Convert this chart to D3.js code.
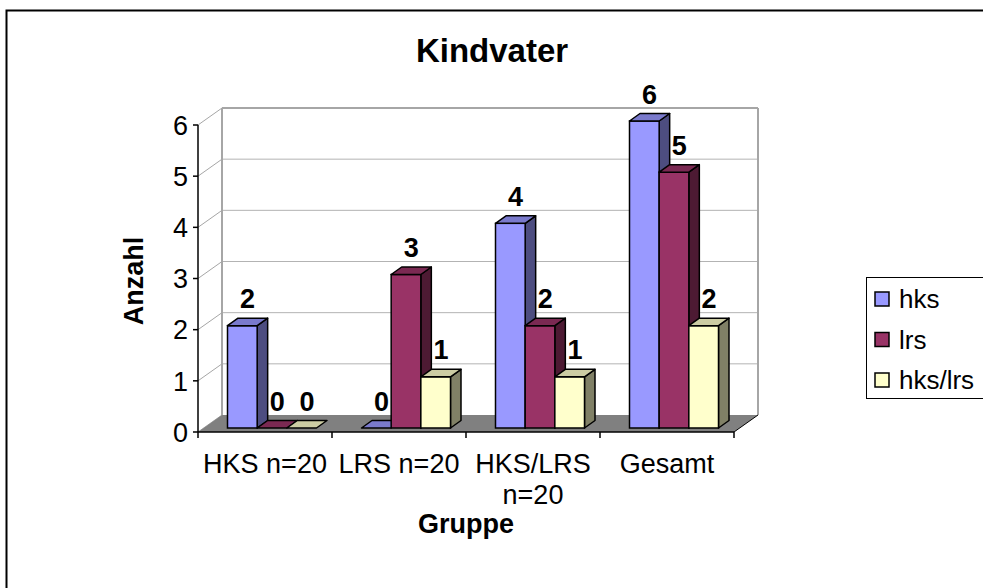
<!DOCTYPE html>
<html>
<head>
<meta charset="utf-8">
<script src="https://cdn.jsdelivr.net/npm/d3@7"></script>
<style>
  html, body { margin: 0; padding: 0; background: #fff; }
  svg { display: block; font-family: "Liberation Sans", Arial, sans-serif; }
</style>
</head>
<body>
<svg id="chart" width="983" height="588"></svg>
<script>
// Kindvater: counts per group, three series
const categories = ["HKS n=20", "LRS n=20", "HKS/LRS n=20", "Gesamt"];
const categoryLines = [["HKS n=20"], ["LRS n=20"], ["HKS/LRS", "n=20"], ["Gesamt"]];
const seriesNames = ["hks", "lrs", "hks/lrs"];
const hksValues = [2, 0, 4, 6];
const lrsValues = [0, 3, 2, 5];
const hksLrsValues = [0, 1, 1, 2];
const yTicks = [0, 1, 2, 3, 4, 5, 6];

const seriesValues = [hksValues, lrsValues, hksLrsValues];
const palette = [
  { front: "#9999FF", top: "#7A7ACC", side: "#4D4D80" },
  { front: "#993366", top: "#7A2952", side: "#4D1A33" },
  { front: "#FFFFCC", top: "#CCCCA3", side: "#808066" }
];

const svg = d3.select("#chart");

// outer chart frame
svg.append("rect")
  .attr("x", 6.5).attr("y", 10.5).attr("width", 1000).attr("height", 600)
  .attr("fill", "#fff").attr("stroke", "#000").attr("stroke-width", 2);

// 3D plot geometry
const left = 198, right = 734, front0 = 432;
const depthX = 24, depthY = -17;           // wall depth offset
const barShiftX = 5.6, barShiftY = -4;     // bars sit slightly behind the front plane
const barDX = 10.5, barDY = -7.5;          // bar depth

const y = d3.scaleLinear().domain([0, 6]).range([front0, front0 - 307]);
const x = d3.scaleBand().domain(categories).range([left, right]);
const xs = d3.scaleBand().domain(seriesNames).range([23.9, 23.9 + 89]);

// side wall (left) and back wall
const topFront = y(6);
const g = svg.append("g");
g.append("polygon")
  .attr("points", [[left, topFront], [left + depthX, topFront + depthY],
                   [left + depthX, front0 + depthY], [left, front0]].join(" "))
  .attr("fill", "#fff");
g.append("rect")
  .attr("x", left + depthX).attr("y", topFront + depthY)
  .attr("width", right - left).attr("height", front0 - topFront)
  .attr("fill", "#fff");

// gridlines: diagonal on side wall, horizontal on back wall
yTicks.forEach(t => {
  const yf = y(t);
  g.append("line")
    .attr("x1", left).attr("y1", yf).attr("x2", left + depthX).attr("y2", yf + depthY)
    .attr("stroke", "#a6a6a6").attr("stroke-width", 1);
  if (t > 0) {
    g.append("line")
      .attr("x1", left + depthX).attr("y1", yf + depthY)
      .attr("x2", right + depthX).attr("y2", yf + depthY)
      .attr("stroke", "#b3b3b3").attr("stroke-width", 1);
  }
});
// back wall edges
[[left + depthX, topFront + depthY, left + depthX, front0 + depthY],
 [right + depthX, topFront + depthY, right + depthX, front0 + depthY],
 [left + depthX, topFront + depthY, right + depthX, topFront + depthY]].forEach(p => {
  g.append("line").attr("x1", p[0]).attr("y1", p[1]).attr("x2", p[2]).attr("y2", p[3])
    .attr("stroke", "#a6a6a6").attr("stroke-width", 2);
});

// floor
g.append("polygon")
  .attr("points", [[left, front0], [right, front0], [right + depthX, front0 + depthY],
                   [left + depthX, front0 + depthY]].join(" "))
  .attr("fill", "#808080");

// front axes
g.append("line").attr("x1", left).attr("y1", topFront).attr("x2", left).attr("y2", front0)
  .attr("stroke", "#000").attr("stroke-width", 1.5);
g.append("line").attr("x1", left).attr("y1", front0).attr("x2", right).attr("y2", front0)
  .attr("stroke", "#000").attr("stroke-width", 1.5);
g.append("line").attr("x1", right).attr("y1", front0).attr("x2", right + depthX).attr("y2", front0 + depthY)
  .attr("stroke", "#000").attr("stroke-width", 1);

// y axis ticks and labels
yTicks.forEach(t => {
  g.append("line").attr("x1", left - 5).attr("y1", y(t)).attr("x2", left).attr("y2", y(t))
    .attr("stroke", "#000").attr("stroke-width", 1.5);
  g.append("text").attr("x", left - 10).attr("y", y(t)).attr("dy", "0.36em")
    .attr("text-anchor", "end").attr("font-size", 27).text(t);
});

// x axis ticks and category labels
const tickXs = categories.map(c => x(c)).concat([right]);
tickXs.forEach(tx => {
  g.append("line").attr("x1", tx).attr("y1", front0).attr("x2", tx).attr("y2", front0 + 6)
    .attr("stroke", "#000").attr("stroke-width", 1.5);
});
categories.forEach((c, i) => {
  const cx = x(c) + x.bandwidth() / 2;
  const t = g.append("text").attr("x", cx).attr("y", 473)
    .attr("text-anchor", "middle").attr("font-size", 27);
  categoryLines[i].forEach((line, j) => {
    t.append("tspan").attr("x", cx).attr("dy", j === 0 ? 0 : 31).text(line);
  });
});

// bars, drawn left to right so each front face covers its neighbour's side
const bars = svg.append("g");
categories.forEach((c, ci) => {
  seriesNames.forEach((s, si) => {
    const v = seriesValues[si][ci];
    const col = palette[si];
    const bx = x(c) + barShiftX + xs(s);
    const bw = xs.bandwidth();
    const base = y(0) + barShiftY;
    const top = y(v) + barShiftY;
    if (v > 0) {
      bars.append("polygon")
        .attr("points", [[bx + bw, top], [bx + bw + barDX, top + barDY],
                         [bx + bw + barDX, base + barDY], [bx + bw, base]].join(" "))
        .attr("fill", col.side).attr("stroke", "#000").attr("stroke-width", 1.5)
        .attr("stroke-linejoin", "round");
      bars.append("rect")
        .attr("x", bx).attr("y", top).attr("width", bw).attr("height", base - top)
        .attr("fill", col.front).attr("stroke", "#000").attr("stroke-width", 1.5);
    }
    bars.append("polygon")
      .attr("points", [[bx, top], [bx + barDX, top + barDY],
                       [bx + bw + barDX, top + barDY], [bx + bw, top]].join(" "))
      .attr("fill", col.top).attr("stroke", "#000").attr("stroke-width", 1.5)
      .attr("stroke-linejoin", "round");
    bars.append("text")
      .attr("x", bx + bw / 2 + barDX / 2).attr("y", top + barDY - 10)
      .attr("text-anchor", "middle").attr("font-size", 27).attr("font-weight", "bold")
      .text(v);
  });
});

// titles
svg.append("text").attr("x", 492).attr("y", 62).attr("text-anchor", "middle")
  .attr("font-size", 33).attr("font-weight", "bold").text("Kindvater");
svg.append("text").attr("x", 466).attr("y", 533).attr("text-anchor", "middle")
  .attr("font-size", 27).attr("font-weight", "bold").text("Gruppe");
svg.append("text").attr("transform", "translate(143,281) rotate(-90)")
  .attr("text-anchor", "middle").attr("font-size", 27).attr("font-weight", "bold").text("Anzahl");

// legend
const lg = svg.append("g");
lg.append("rect").attr("x", 866.5).attr("y", 277.5).attr("width", 140).attr("height", 121)
  .attr("fill", "#fff").attr("stroke", "#000").attr("stroke-width", 1);
seriesNames.forEach((s, i) => {
  const cy = 299 + i * 40.5;
  lg.append("rect").attr("x", 875).attr("y", cy - 7).attr("width", 14).attr("height", 14)
    .attr("fill", palette[i].front).attr("stroke", "#000").attr("stroke-width", 1.5);
  lg.append("text").attr("x", 899).attr("y", cy).attr("dy", "0.36em")
    .attr("font-size", 26).text(s);
});
</script>
</body>
</html>
